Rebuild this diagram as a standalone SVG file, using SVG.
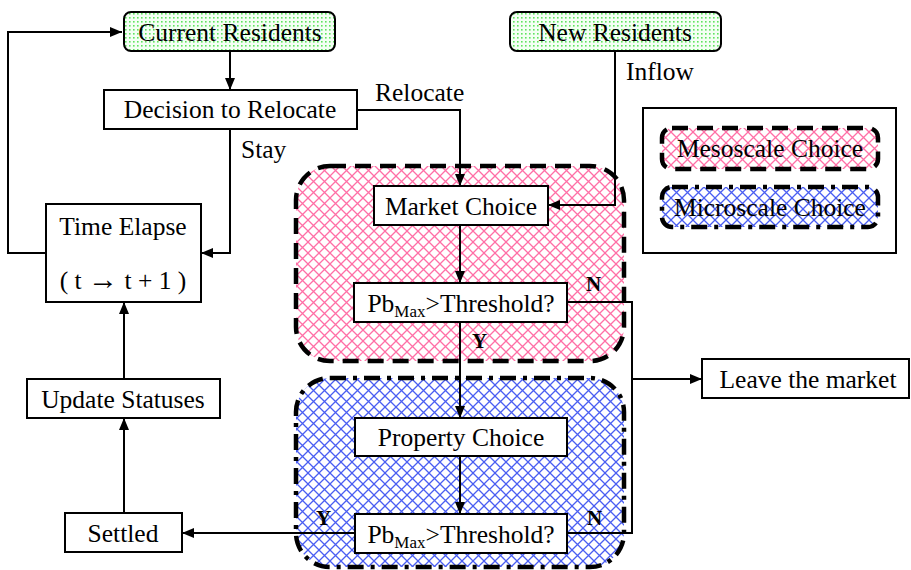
<svg xmlns="http://www.w3.org/2000/svg" width="911" height="570" viewBox="0 0 911 570">
<style>
text{font-family:"Liberation Serif","Times New Roman",serif;font-size:25.5px;fill:#000}
.b{font-weight:bold;font-size:21px}
.box{fill:#fff;stroke:#000;stroke-width:2}
.g{fill:url(#dots);stroke:#000;stroke-width:2}
.c{fill:none;stroke:#000;stroke-width:2}
.meso{fill:url(#pink);stroke:#000;stroke-width:4.5;stroke-dasharray:16 9}
.micro{fill:url(#blue);stroke:#000;stroke-width:4.5;stroke-dasharray:16 7 4 7}
</style>
<defs>
<pattern id="dots" width="4" height="4" patternUnits="userSpaceOnUse">
<rect width="4" height="4" fill="#f4fff4"/>
<rect x="1" y="1" width="1.6" height="1.6" fill="#5fe35f"/>
</pattern>
<pattern id="pink" width="11" height="11" patternUnits="userSpaceOnUse">
<rect width="11" height="11" fill="#fff"/>
<path d="M0,0L11,11M11,0L0,11" stroke="#ff6fa6" stroke-width="1.3"/>
</pattern>
<pattern id="blue" width="11" height="11" patternUnits="userSpaceOnUse">
<rect width="11" height="11" fill="#fff"/>
<path d="M0,0L11,11M11,0L0,11" stroke="#4a5ef2" stroke-width="1.3"/>
</pattern>
<marker id="ar" viewBox="0 0 12 10" refX="12" refY="5" markerWidth="12" markerHeight="10" markerUnits="userSpaceOnUse" orient="auto">
<path d="M0,0L12,5L0,10z" fill="#000"/>
</marker>
</defs>

<g id="mesoscale"><rect class="meso" x="296" y="166" width="328" height="195" rx="34"/></g>
<g id="microscale"><rect class="micro" x="296" y="378" width="328" height="189" rx="34"/></g>

<g id="connectors">
<path class="c" d="M46,253H8V32H122" marker-end="url(#ar)"/>
<path class="c" d="M230,51V90" marker-end="url(#ar)"/>
<path class="c" d="M230,129V253H201" marker-end="url(#ar)"/>
<path class="c" d="M357,110H460V186" marker-end="url(#ar)"/>
<path class="c" d="M615,51V205H548" marker-end="url(#ar)"/>
<path class="c" d="M460,225V283" marker-end="url(#ar)"/>
<path class="c" d="M460,322V418" marker-end="url(#ar)"/>
<path class="c" d="M460,456V514" marker-end="url(#ar)"/>
<path class="c" d="M567,302H632V533H567"/>
<path class="c" d="M632,379H702" marker-end="url(#ar)"/>
<path class="c" d="M355,533H182" marker-end="url(#ar)"/>
<path class="c" d="M124,513V418" marker-end="url(#ar)"/>
<path class="c" d="M124,379V302" marker-end="url(#ar)"/>
<text x="375" y="101" font-size="23">Relocate</text>
<text x="241" y="158" font-size="23">Stay</text>
<text x="626" y="80" font-size="23">Inflow</text>
<text class="b" x="586" y="291">N</text>
<text class="b" x="472" y="348">Y</text>
<text class="b" x="316" y="525">Y</text>
<text class="b" x="587" y="525">N</text>
</g>

<g id="current-residents"><rect class="g" x="124" y="12" width="211" height="39" rx="7"/><text x="230" y="41" text-anchor="middle">Current Residents</text></g>
<g id="new-residents"><rect class="g" x="510" y="12" width="211" height="39" rx="7"/><text x="615" y="41" text-anchor="middle">New Residents</text></g>
<g id="decision"><rect class="box" x="104" y="90" width="253" height="39"/><text x="230" y="118" text-anchor="middle">Decision to Relocate</text></g>
<g id="time-elapse"><rect class="box" x="46" y="204" width="155" height="98"/><text x="123" y="235" text-anchor="middle">Time Elapse</text><text x="123" y="289" text-anchor="middle">( t <tspan font-size="30">→</tspan> t + 1 )</text></g>
<g id="update-statuses"><rect class="box" x="27" y="379" width="193" height="39"/><text x="123" y="408" text-anchor="middle">Update Statuses</text></g>
<g id="settled"><rect class="box" x="65" y="513" width="117" height="39"/><text x="123" y="542" text-anchor="middle">Settled</text></g>
<g id="market-choice"><rect class="box" x="374" y="186" width="174" height="39"/><text x="461" y="215" text-anchor="middle">Market Choice</text></g>
<g id="threshold-1"><rect class="box" x="354" y="283" width="213" height="39"/><text x="461" y="312" text-anchor="middle">Pb<tspan font-size="17" dy="5">Max</tspan><tspan dy="-5">&gt;Threshold?</tspan></text></g>
<g id="property-choice"><rect class="box" x="355" y="418" width="212" height="38"/><text x="461" y="446" text-anchor="middle">Property Choice</text></g>
<g id="threshold-2"><rect class="box" x="355" y="514" width="212" height="39"/><text x="461" y="543" text-anchor="middle">Pb<tspan font-size="17" dy="5">Max</tspan><tspan dy="-5">&gt;Threshold?</tspan></text></g>
<g id="leave-market"><rect class="box" x="702" y="359" width="207" height="39"/><text x="808" y="388" text-anchor="middle">Leave the market</text></g>
<g id="legend"><rect class="box" x="643" y="108" width="253" height="145"/>
<rect class="meso" x="662" y="128" width="216" height="41" rx="10"/><text x="770" y="157" text-anchor="middle">Mesoscale Choice</text>
<rect class="micro" x="662" y="187" width="216" height="40" rx="10"/><text x="770" y="216" text-anchor="middle">Microscale Choice</text></g>
</svg>
